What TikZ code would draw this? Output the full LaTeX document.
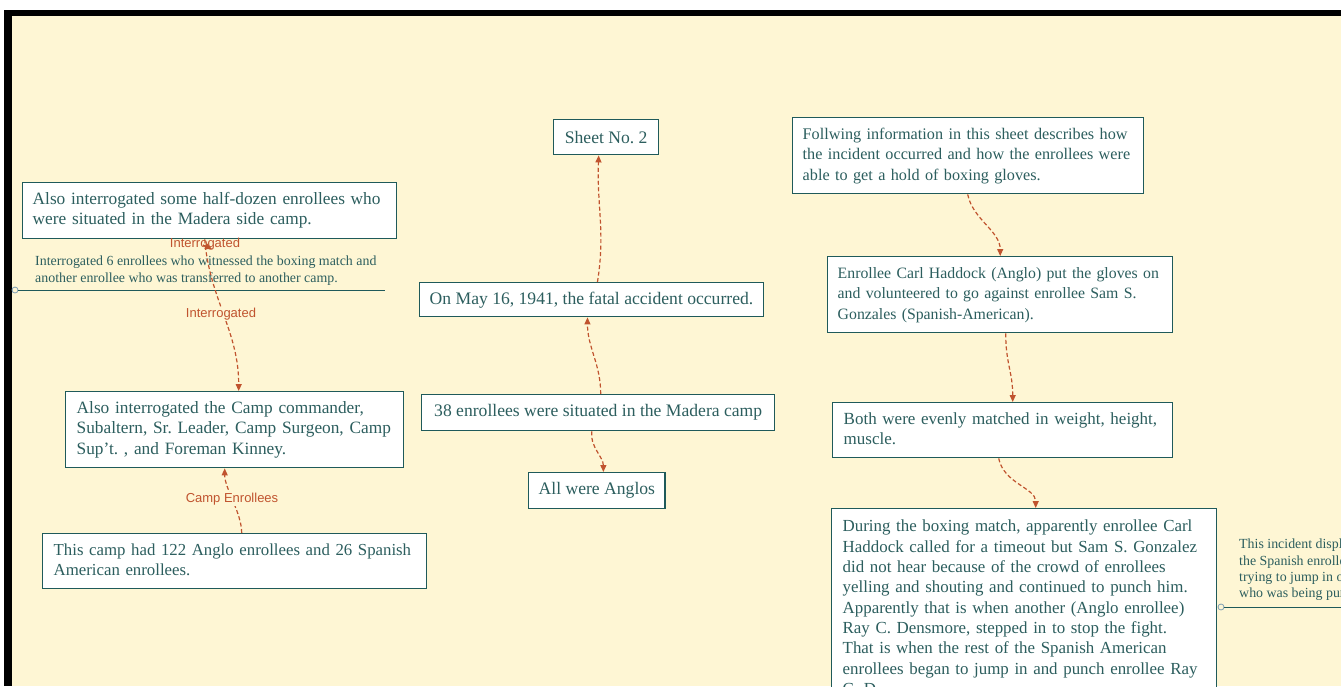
\documentclass[tikz,border=0pt]{standalone}
\usepackage{fontspec}
\setmainfont{Liberation Serif}
\newfontfamily\lblfont{Liberation Sans}
\usetikzlibrary{arrows.meta}
\newcommand\rows[1]{\begin{tabular}{@{}l@{}}#1\end{tabular}}
\definecolor{pagebg}{HTML}{FEF6D4}
\definecolor{boxline}{HTML}{1F5A5A}
\definecolor{boxtext}{HTML}{2C5E5E}
\definecolor{conncol}{HTML}{C0532E}
\definecolor{ringcol}{HTML}{7F9FB5}
\tikzset{
 fs/.style={font=\fontsize{#1}{20.3}\selectfont\frenchspacing},
 box/.style={draw=boxline, line width=1.4pt, fill=white, text=boxtext, anchor=north west, inner xsep=10pt, inner ysep=0pt, align=left, fs=17.6},
 cbox/.style={box, align=center},
 conn/.style={draw=conncol, line width=1.2pt, dash pattern=on 4pt off 2.5pt, -{Triangle[length=7pt,width=6pt]}},
 lbl/.style={text=conncol, font=\lblfont\fontsize{13}{15}\selectfont, inner sep=1pt},
 note/.style={text=boxtext, font=\fontsize{13.9}{16.2}\selectfont\frenchspacing, align=left, anchor=north west, inner sep=0pt},
 ring/.style={draw=ringcol, line width=0.8pt, fill=pagebg, circle, minimum size=6pt, inner sep=0pt},
 noteline/.style={draw=boxline, line width=0.9pt},
}
\begin{document}
\begin{tikzpicture}[x=1pt,y=-1pt]
\useasboundingbox (0,0) rectangle (1341,686);
\clip (0,0) rectangle (1341,686);
\fill[white] (0,0) rectangle (1341,686);
\fill[black] (4,10) rectangle (1341,686);
\fill[pagebg] (12,16) rectangle (1341,686);

% left column
\node[box, fs=17.3, text width=354pt, minimum height=56pt] (A) at (22,182) {\rows{Also interrogated some half-dozen enrollees who\\were situated in the Madera side camp.}};
\node[note] (N1) at (35,256) {Interrogated 6 enrollees who witnessed the boxing match and\\another enrollee who was transferred to another camp.};
\node[ring] (r1) at (15,290) {};
\coordinate (n1e) at (385,290);
\draw[noteline] (r1) -- (n1e);
\node[box, fs=17.3, inner xsep=11pt, text width=316pt, minimum height=76pt] (C) at (65,391) {\rows{Also interrogated the Camp commander,\\Subaltern, Sr. Leader, Camp Surgeon, Camp\\Sup't. , and Foreman Kinney.}};
\node[box, fs=16.8, inner xsep=11pt, text width=362pt, minimum height=55pt] (D) at (42,533) {\rows{This camp had 122 Anglo enrollees and 26 Spanish\\American enrollees.}};

% centre column
\node[cbox, minimum width=105pt, minimum height=35pt] (S) at (553,119) {Sheet No. 2};
\node[cbox, minimum width=336pt, minimum height=34pt] (M) at (419,282) {On May 16, 1941, the fatal accident occurred.};
\node[cbox, minimum width=353pt, minimum height=36pt] (E) at (421,394) {38 enrollees were situated in the Madera camp};
\node[cbox, minimum width=131pt, minimum height=36pt] (L) at (528,472) {All were Anglos};

% right column
\node[box, fs=16.2, text width=331pt, minimum height=76pt] (F) at (792,117) {\rows{Follwing information in this sheet describes how\\the incident occurred and how the enrollees were\\able to get a hold of boxing gloves.}};
\node[box, fs=15.8, text width=325pt, minimum height=76pt] (G) at (827,256) {\rows{Enrollee Carl Haddock (Anglo) put the gloves on\\and volunteered to go against enrollee Sam S.\\Gonzales (Spanish-American).}};
\node[box, fs=17.0, inner xsep=11pt, text width=318pt, minimum height=55pt] (H) at (832,402) {\rows{Both were evenly matched in weight, height,\\muscle.}};
\node[box, fs=16.9, inner xsep=11pt, inner ysep=9pt, text width=363pt] (I) at (831,508) {\rows{During the boxing match, apparently enrollee Carl\\Haddock called for a timeout but Sam S. Gonzalez\\did not hear because of the crowd of enrollees\\yelling and shouting and continued to punch him.\\Apparently that is when another (Anglo enrollee)\\Ray C. Densmore, stepped in to stop the fight.\\That is when the rest of the Spanish American\\enrollees began to jump in and punch enrollee Ray\\C. D}};
\node[note] (N2) at (1239,539) {This incident displ\\the Spanish enrolle\\trying to jump in o\\who was being pun};
\node[ring] (r2) at (1221,607) {};
\coordinate (n2e) at (1345,607);
\draw[noteline] (r2) -- (n2e);

% connectors
\draw[conn] ([xshift=-5pt]A.south) .. controls +(5,60) and +(0,-60) .. ([xshift=4pt]C.north);
\coordinate (ia) at (203,245);
\coordinate (ib) at (212,249);
\draw[conn] (ia) -- (ib);
\draw[conn] ([xshift=7pt]D.north) .. controls +(0,-20) and +(0,20) .. ([xshift=-10pt]C.south);
\draw[conn] ([xshift=6pt]M.north) .. controls +(8,-50) and +(-2,50) .. ([xshift=-7.5pt]S.south);
\draw[conn] ([xshift=2.5pt]E.north) .. controls +(0,-30) and +(0,30) .. ([xshift=-4pt]M.south);
\draw[conn] ([xshift=-6.5pt]E.south) .. controls +(-2,15) and +(0,-15) .. ([xshift=6.5pt]L.north);
\draw[conn] ([xshift=-0.5pt]F.south) .. controls +(5,25) and +(0,-25) .. (G.north);
\draw[conn] ([xshift=5.5pt]G.south) .. controls +(0,30) and +(0,-30) .. ([xshift=10pt]H.north);
\draw[conn] ([xshift=-4pt]H.south) .. controls +(5,25) and +(0,-20) .. ([xshift=11.5pt]I.north);

% labels
\node[lbl] (l1) at (205,244) {Interrogated};
\node[lbl, fill=pagebg] (l2) at (221,314) {Interrogated};
\node[lbl, fill=pagebg] (l3) at (232,499) {Camp Enrollees};
\end{tikzpicture}
\end{document}
